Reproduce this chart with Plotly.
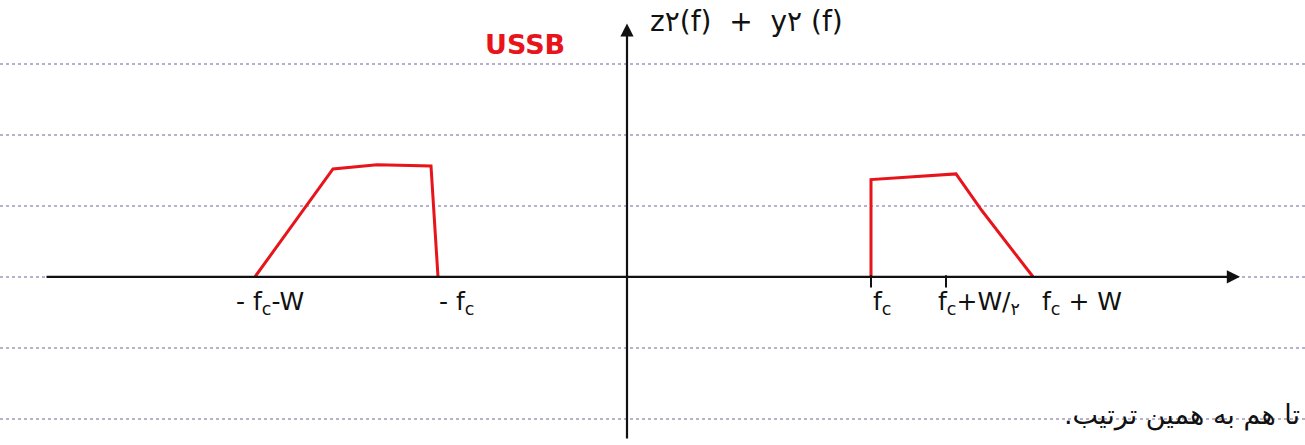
import plotly.graph_objects as go

# Frequency axis in arbitrary units (origin at f = 0), amplitude in ruled-line units
left_band_f = [-3.72, -2.94, -2.50, -1.96, -1.89]
left_band_a = [0.0, 1.52, 1.58, 1.56, 0.0]
right_band_f = [2.44, 2.44, 3.29, 3.55, 4.06]
right_band_a = [0.0, 1.37, 1.45, 0.93, 0.0]

tick_f = [2.44, 3.19]
label_f = [-3.57, -1.71, 2.55, 3.52, 4.55]
label_text = ["- f<sub>c</sub>-W", "- f<sub>c</sub>", "f<sub>c</sub>",
              "f<sub>c</sub>+W/<sub>۲</sub>", "f<sub>c</sub> + W"]

f_axis = [-5.82, 6.13]
a_axis = [-2.30, 3.57]

RED = "#e8141b"
INK = "#111111"
FONT = "DejaVu Sans"

fig = go.Figure()

for f, a in [(left_band_f, left_band_a), (right_band_f, right_band_a)]:
    fig.add_trace(go.Scatter(x=f, y=a, mode="lines",
                             line=dict(color=RED, width=3),
                             hoverinfo="skip", showlegend=False))

# small tick marks under the frequency axis
for t in tick_f:
    fig.add_trace(go.Scatter(x=[t, t], y=[0.02, -0.15], mode="lines",
                             line=dict(color=INK, width=2),
                             hoverinfo="skip", showlegend=False))

annotations = []
# frequency axis with arrow
annotations.append(dict(x=f_axis[1], y=0, ax=f_axis[0], ay=0,
                        xref="x", yref="y", axref="x", ayref="y",
                        showarrow=True, arrowhead=2, arrowsize=1.2,
                        arrowwidth=2.2, arrowcolor=INK, text=""))
# amplitude axis with arrow
annotations.append(dict(x=0, y=a_axis[1], ax=0, ay=a_axis[0],
                        xref="x", yref="y", axref="x", ayref="y",
                        showarrow=True, arrowhead=2, arrowsize=1.2,
                        arrowwidth=2.2, arrowcolor=INK, text=""))

for f, t in zip(label_f, label_text):
    annotations.append(dict(x=f, y=-0.12, xref="x", yref="y", text=t,
                            showarrow=False, xanchor="center", yanchor="top",
                            font=dict(family=FONT, size=25, color=INK)))

annotations.append(dict(x=0.21, y=3.60, xref="x", yref="y",
                        text="z۲(f)  +  y۲ (f)", showarrow=False,
                        xanchor="left", yanchor="middle",
                        font=dict(family=FONT, size=28, color=INK)))
annotations.append(dict(x=-1.02, y=3.28, xref="x", yref="y",
                        text="<b>USSB</b>", showarrow=False,
                        xanchor="center", yanchor="middle",
                        font=dict(family=FONT, size=27, color=RED)))
annotations.append(dict(x=0.998, y=-1.95, xref="paper", yref="y",
                        text=".تا هم به همین ترتیب", showarrow=False,
                        xanchor="right", yanchor="middle",
                        font=dict(family=FONT, size=27, color=INK)))

fig.update_layout(
    width=1305, height=445,
    margin=dict(l=0, r=0, t=0, b=0),
    paper_bgcolor="white", plot_bgcolor="white",
    annotations=annotations,
    xaxis=dict(range=[-6.27, 6.78], showgrid=False, zeroline=False,
               showticklabels=False, ticks=""),
    yaxis=dict(range=[-2.37, 3.90], dtick=1, tick0=0,
               showgrid=True, gridcolor="#b9b0cc", gridwidth=1.5,
               griddash="dot", zeroline=False,
               showticklabels=False, ticks=""),
)

fig.write_html("out.html")
